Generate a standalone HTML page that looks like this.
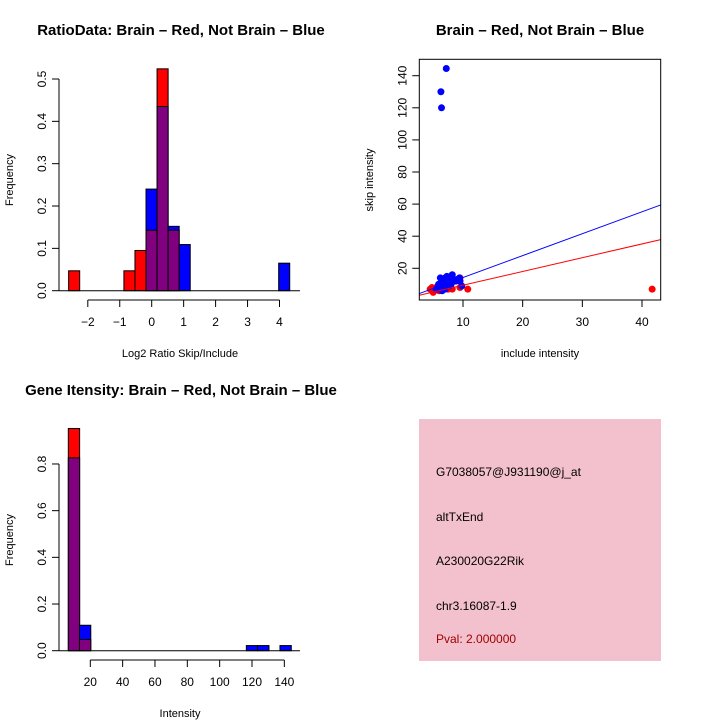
<!DOCTYPE html>
<html><head><meta charset="utf-8"><style>
html,body{margin:0;padding:0;background:#fff;}
svg{display:block;font-family:"Liberation Sans",sans-serif;}
</style></head><body>
<svg id="c" width="720" height="720" viewBox="0 0 720 720">
<rect width="720" height="720" fill="#fff"/>
<text x="181" y="35" text-anchor="middle" font-size="15" font-weight="bold">RatioData: Brain – Red, Not Brain – Blue</text>
<text x="540" y="35" text-anchor="middle" font-size="15" font-weight="bold">Brain – Red, Not Brain – Blue</text>
<text x="181" y="395" text-anchor="middle" font-size="15" font-weight="bold">Gene Itensity: Brain – Red, Not Brain – Blue</text>
<text x="180" y="357" text-anchor="middle" font-size="11">Log2 Ratio Skip/Include</text>
<text x="13" y="180" text-anchor="middle" font-size="11" transform="rotate(-90 13 180)">Frequency</text>
<text x="540" y="357" text-anchor="middle" font-size="11">include intensity</text>
<text x="373" y="180" text-anchor="middle" font-size="11" transform="rotate(-90 373 180)">skip intensity</text>
<text x="180" y="717" text-anchor="middle" font-size="11">Intensity</text>
<text x="13" y="540" text-anchor="middle" font-size="11" transform="rotate(-90 13 540)">Frequency</text>
<g>
<rect x="419" y="419" width="242" height="242" fill="#f3c1cd"/>
<text x="436" y="476" font-size="12">G7038057@J931190@j_at</text>
<text x="436" y="521" font-size="12">altTxEnd</text>
<text x="436" y="565" font-size="12">A230020G22Rik</text>
<text x="436" y="610" font-size="12">chr3.16087-1.9</text>
<text x="436" y="643" font-size="12" fill="#a00000">Pval: 2.000000</text>
</g>
<g id="g1"></g><g id="g2"></g><g id="g3"></g>
</svg>
<script>
// Ratio histogram
const rBinStarts=[-2.6,-2.254,-1.908,-1.562,-1.216,-0.87,-0.524,-0.178,0.168,0.514,0.86,1.206,1.552,1.898,2.244,2.59,2.936,3.282,3.628,3.974];
const rRed=[0.047,0,0,0,0,0.047,0.095,0.143,0.524,0.143,0,0,0,0,0,0,0,0,0,0];
const rBlue=[0,0,0,0,0,0,0,0.24,0.435,0.152,0.109,0,0,0,0,0,0,0,0,0.065];
const rBinW=0.346;
const rXTicks=[-2,-1,0,1,2,3,4];
const rYTicks=[0,0.1,0.2,0.3,0.4,0.5];
// Scatter
const sBlueX=[6.3,6.4,7.2,5.5,6,6.5,7,7.5,8,8.5,9,9.5,6.2,6.8,7.3,7.8,6.5,7,8.2,9.8,5.8,6.6,7.1,6.9,8.8,6.3,7.6,9.4,5.9,6.1];
const sBlueY=[130,120,144.5,7,9,12,14,11,10,12,13,12,14,8,15,9,6,7,16,9,8,10,11,13,12,11,13,14,10,7];
const sRedX=[41.7,4.5,5,10.8,9.5,9.5,5.5,6,7.5,8.2,4.8];
const sRedY=[7,7,5,7,14,8,8,6,7,7,8];
const sBlueFit=[0.6,1.365];
const sRedFit=[0.9,0.857];
const sXTicks=[10,20,30,40];
const sYTicks=[20,40,60,80,100,120,140];
// Intensity histogram
const iBinStarts=[6.4,13.3,116.5,123.5,137.3];
const iRed=[0.952,0.048,0,0,0];
const iBlue=[0.826,0.109,0.022,0.022,0.022];
const iBinW=7;
const iXTicks=[20,40,60,80,100,120,140];
const iYTicks=[0,0.2,0.4,0.6,0.8];

const NS="http://www.w3.org/2000/svg";
function mk(p,tag,a){const e=document.createElementNS(NS,tag);for(const k in a)e.setAttribute(k,a[k]);p.appendChild(e);return e;}

function hist(g,starts,red,blue,w,sx,sy,xt,yt,xAxisY,yAxisX,fmt,name){
  for(let i=0;i<starts.length;i++){
    const x0=sx(starts[i]),x1=sx(starts[i]+w);
    const hi=Math.max(red[i],blue[i]),lo=Math.min(red[i],blue[i]);
    if(hi>0){
      const r=mk(g,'rect',{x:x0,y:sy(hi),width:x1-x0,height:sy(0)-sy(hi),fill:red[i]>=blue[i]?'#ff0000':'#0000ff',stroke:'#000','stroke-width':1});
      
      
    }
    if(lo>0){
      const r=mk(g,'rect',{x:x0,y:sy(lo),width:x1-x0,height:sy(0)-sy(lo),fill:'#800080',stroke:'#000','stroke-width':1});
      
      
    }
  }
  mk(g,'line',{x1:sx(xt[0]),x2:sx(xt[xt.length-1]),y1:xAxisY,y2:xAxisY,stroke:'#000'});
  xt.forEach(v=>{mk(g,'line',{x1:sx(v),x2:sx(v),y1:xAxisY,y2:xAxisY+7,stroke:'#000'});
    const t=mk(g,'text',{x:sx(v),y:xAxisY+26,'text-anchor':'middle','font-size':12});t.textContent=String(v).replace('-','−');
    
    });
  mk(g,'line',{x1:yAxisX,x2:yAxisX,y1:sy(yt[0]),y2:sy(yt[yt.length-1]),stroke:'#000'});
  yt.forEach(v=>{mk(g,'line',{x1:yAxisX-7,x2:yAxisX,y1:sy(v),y2:sy(v),stroke:'#000'});
    const tx=yAxisX-13;const t=mk(g,'text',{x:tx,y:sy(v),'text-anchor':'middle','font-size':12,transform:`rotate(-90 ${tx} ${sy(v)})`});t.textContent=fmt(v);
    
    });
  mk(g,'line',{x1:yAxisX,x2:300,y1:sy(0),y2:sy(0),stroke:'#000'});
}
// plot 1
hist(document.getElementById('g1'),rBinStarts,rRed,rBlue,rBinW,
 v=>151.7+v*31.95, v=>290.7-v*423.4, rXTicks,rYTicks,300,59,v=>v.toFixed(1),'ratio');
// plot 3
hist(document.getElementById('g3'),iBinStarts,iRed,iBlue,iBinW,
 v=>90.3+(v-20)*1.617, v=>650.7-v*233.4, iXTicks,iYTicks,660,59,v=>v.toFixed(1),'intensity');
// plot 2
(function(){
  const g=document.getElementById('g2');
  const sx=v=>463+(v-10)*5.967, sy=v=>268.3-(v-20)*1.605;
  const L=419.3,R=660.7,T=59.3,B=300;
  const clip=mk(g,'clipPath',{id:'cp'});mk(clip,'rect',{x:L,y:T,width:R-L,height:B-T});
  const inner=mk(g,'g',{'clip-path':'url(#cp)'});
  sRedX.forEach((x,i)=>{const c=mk(inner,'circle',{cx:sx(x),cy:sy(sRedY[i]),r:3.5,fill:'#ff0000'});
    
    });
  sBlueX.forEach((x,i)=>{const c=mk(inner,'circle',{cx:sx(x),cy:sy(sBlueY[i]),r:3.5,fill:'#0000ff'});
    
    });
  const xa=(L-463)/5.967+10, xb=(R-463)/5.967+10;
  [[sBlueFit,'#0000ff','blue-fit-line'],[sRedFit,'#ff0000','red-fit-line']].forEach(([f,col,n])=>{
    const l=mk(inner,'line',{x1:L,y1:sy(f[0]+f[1]*xa),x2:R,y2:sy(f[0]+f[1]*xb),stroke:col,'stroke-width':1});
    
    
  });
  mk(g,'rect',{x:L,y:T,width:R-L,height:B-T,fill:'none',stroke:'#000'});
  sXTicks.forEach(v=>{mk(g,'line',{x1:sx(v),x2:sx(v),y1:B,y2:B+7,stroke:'#000'});
    const t=mk(g,'text',{x:sx(v),y:B+26,'text-anchor':'middle','font-size':12});t.textContent=v;
    
    });
  sYTicks.forEach(v=>{mk(g,'line',{x1:L-7,x2:L,y1:sy(v),y2:sy(v),stroke:'#000'});
    const tx=L-13;const t=mk(g,'text',{x:tx,y:sy(v),'text-anchor':'middle','font-size':12,transform:`rotate(-90 ${tx} ${sy(v)})`});t.textContent=v;
    
    });
})();
</script>
</body></html>
